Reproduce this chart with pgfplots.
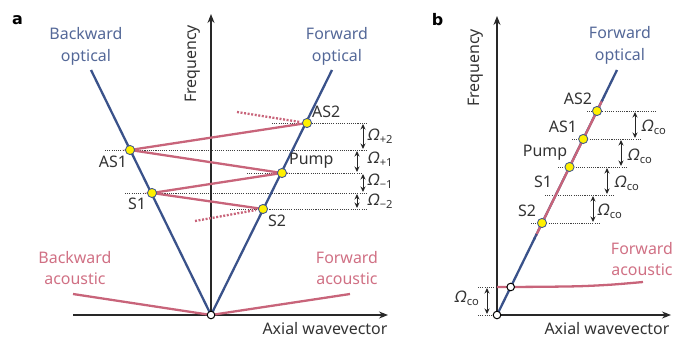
\documentclass[border=0pt]{standalone}
\usepackage{fontspec}
\setmainfont{Noto Sans}
\newfontfamily\boldf{DejaVu Sans}
\newfontfamily\omf{Noto Sans}[FakeSlant=0.2]
\usepackage{pgfplots}
\pgfplotsset{compat=1.18}
\usetikzlibrary{arrows.meta}
\definecolor{optblue}{RGB}{58,82,138}
\definecolor{acred}{RGB}{200,100,122}
\definecolor{bluetext}{RGB}{84,104,152}
\definecolor{redtext}{RGB}{208,112,132}
\definecolor{ptyellow}{RGB}{255,240,0}
\definecolor{ptedge}{RGB}{70,90,140}
\definecolor{axcol}{RGB}{40,40,40}
\newcommand{\Om}[1]{{\omf Ω}\kern1.2pt\textsubscript{#1}}
\tikzset{
  lab/.style={font=\fontsize{16}{22}\selectfont, inner sep=0pt, text=black!80},
  axisline/.style={axcol, line width=1.1pt, -{Stealth[length=9pt,width=7pt]}},
  opt/.style={optblue, line width=2.3pt},
  ac/.style={acred, line width=2.3pt},
  dots/.style={black!75, line width=0.9pt, dash pattern=on 1.1pt off 1.1pt},
  darr/.style={black!85, line width=1pt, {Stealth[length=5.5pt,width=5pt]}-{Stealth[length=5.5pt,width=5pt]}},
}
\pgfplotsset{
  ypt/.style={only marks, mark=*, mark size=4.6pt, mark options={fill=ptyellow, draw=ptedge, line width=0.9pt}},
  wpt/.style={only marks, mark=*, mark size=3.8pt, mark options={fill=white, draw=black, line width=1pt}},
}
\begin{document}
\begin{tikzpicture}
\begin{axis}[
  width=689bp, height=339bp, scale only axis,
  xmin=0, xmax=689, ymin=0, ymax=339, y dir=reverse,
  hide axis, clip=false,
]
% invisible frame
\addplot[draw=none] coordinates {(0,0) (689,339)};

% ================= panel a =================
% dotted levels
\addplot[dots] coordinates {(272,123) (367,123)};
\addplot[dots] coordinates {(105,150) (367,150)};
\addplot[dots] coordinates {(247,173) (363,173)};
\addplot[dots] coordinates {(125,193) (367,193)};
\addplot[dots] coordinates {(230,209) (367,209)};
% axes
\addplot[axisline] coordinates {(73,315) (388,315)};
\addplot[axisline] coordinates {(211,315) (211,14)};
% acoustic branches
\addplot[ac] coordinates {(73,294) (211,315) (350,294)};
% optical branches
\addplot[opt] coordinates {(91,70) (211,315) (332,70)};
% scattering lines
\addplot[ac] coordinates {(307,123) (130,150) (282,173) (152,193) (263,209)};
\addplot[acred, line width=2.3pt, dash pattern=on 2pt off 1.6pt] coordinates {(237,112) (300,122)};
\addplot[acred, line width=2.3pt, dash pattern=on 2pt off 1.6pt] coordinates {(195,221) (256,210)};
% frequency arrows
\addplot[darr] coordinates {(363,124) (363,149)};
\addplot[darr] coordinates {(357,151) (357,172)};
\addplot[darr] coordinates {(363,174) (363,192)};
\addplot[darr] coordinates {(357,194) (357,208)};
% points
\addplot[ypt] coordinates {(307,123) (130,150) (282,173) (152,193) (263,209)};
\addplot[wpt] coordinates {(211,315)};

% labels a
\node[lab, font=\fontsize{16}{22}\selectfont\boldf\bfseries, text=black] at (axis cs:17.5,20) {a};
\node[lab, text=bluetext, align=center] at (axis cs:86,46) {Backward\\optical};
\node[lab, text=bluetext, align=center] at (axis cs:337,46) {Forward\\optical};
\node[lab, text=redtext, align=center] at (axis cs:75,268) {Backward\\acoustic};
\node[lab, text=redtext, align=center] at (axis cs:347,268) {Forward\\acoustic};
\node[lab, rotate=90] at (axis cs:193,64) {Frequency};
\node[lab] at (axis cs:325,329) {Axial wavevector};
\node[lab, anchor=west] at (axis cs:312,112) {AS2};
\node[lab, anchor=west] at (axis cs:289,161) {Pump};
\node[lab] at (axis cs:277,221) {S2};
\node[lab] at (axis cs:113,162) {AS1};
\node[lab] at (axis cs:137,204) {S1};
\node[lab, anchor=west] at (axis cs:367,136) {\Om{+2}};
\node[lab, anchor=west] at (axis cs:367,159) {\Om{+1}};
\node[lab, anchor=west] at (axis cs:367,181) {\Om{−1}};
\node[lab, anchor=west] at (axis cs:367,201) {\Om{−2}};

% ================= panel b =================
\addplot[dots] coordinates {(587,111) (655,111)};
\addplot[dots] coordinates {(572,139) (642,139)};
\addplot[dots] coordinates {(558,167) (628,167)};
\addplot[dots] coordinates {(545,195) (613,195)};
\addplot[dots] coordinates {(531,223) (600,223)};
\addplot[dots] coordinates {(478,287) (497,287)};
\addplot[dots] coordinates {(478,315) (497,315)};
% axes
\addplot[axisline] coordinates {(497,315) (671,315)};
\addplot[axisline] coordinates {(497,315) (497,16)};
% acoustic
\addplot[ac, smooth] coordinates {(497,287) (540,286.8) (580,286.2) (612,284.6) (643,282)};
% optical
\addplot[opt] coordinates {(497,315) (617,70)};
\addplot[ac] coordinates {(602.4,100) (535.7,236)};
\addplot[optblue, line width=2.3pt, dash pattern=on 2pt off 2pt] coordinates {(604.4,96) (601.4,102)};
\addplot[optblue, line width=2.3pt, dash pattern=on 2pt off 2pt] coordinates {(536.7,234) (533.7,240)};
% arrows
\addplot[darr] coordinates {(635,112) (635,138)};
\addplot[darr] coordinates {(621,140) (621,166)};
\addplot[darr] coordinates {(607,168) (607,194)};
\addplot[darr] coordinates {(593,196) (593,222)};
\addplot[darr] coordinates {(487,288) (487,314)};
% points
\addplot[ypt] coordinates {(597,111) (583.2,139) (569.5,167) (542,223)};
\addplot[wpt] coordinates {(497,315) (510.7,287)};

% labels b
\node[lab, font=\fontsize{16}{22}\selectfont\boldf\bfseries, text=black] at (axis cs:437.5,20) {b};
\node[lab, text=bluetext, align=center] at (axis cs:620,45) {Forward\\optical};
\node[lab, text=redtext, align=center] at (axis cs:642,259) {Forward\\acoustic};
\node[lab, rotate=90] at (axis cs:476,68) {Frequency};
\node[lab] at (axis cs:607,329) {Axial wavevector};
\node[lab] at (axis cs:578,99) {AS2};
\node[lab] at (axis cs:563,127) {AS1};
\node[lab] at (axis cs:545,153) {Pump};
\node[lab] at (axis cs:543,182) {S1};
\node[lab] at (axis cs:527,211) {S2};
\node[lab, anchor=west] at (axis cs:641,127) {\Om{co}};
\node[lab, anchor=west] at (axis cs:627,156) {\Om{co}};
\node[lab, anchor=west] at (axis cs:614,183) {\Om{co}};
\node[lab, anchor=west] at (axis cs:597,211) {\Om{co}};
\node[lab, anchor=west] at (axis cs:454,298) {\Om{co}};
\end{axis}
\end{tikzpicture}
\end{document}
